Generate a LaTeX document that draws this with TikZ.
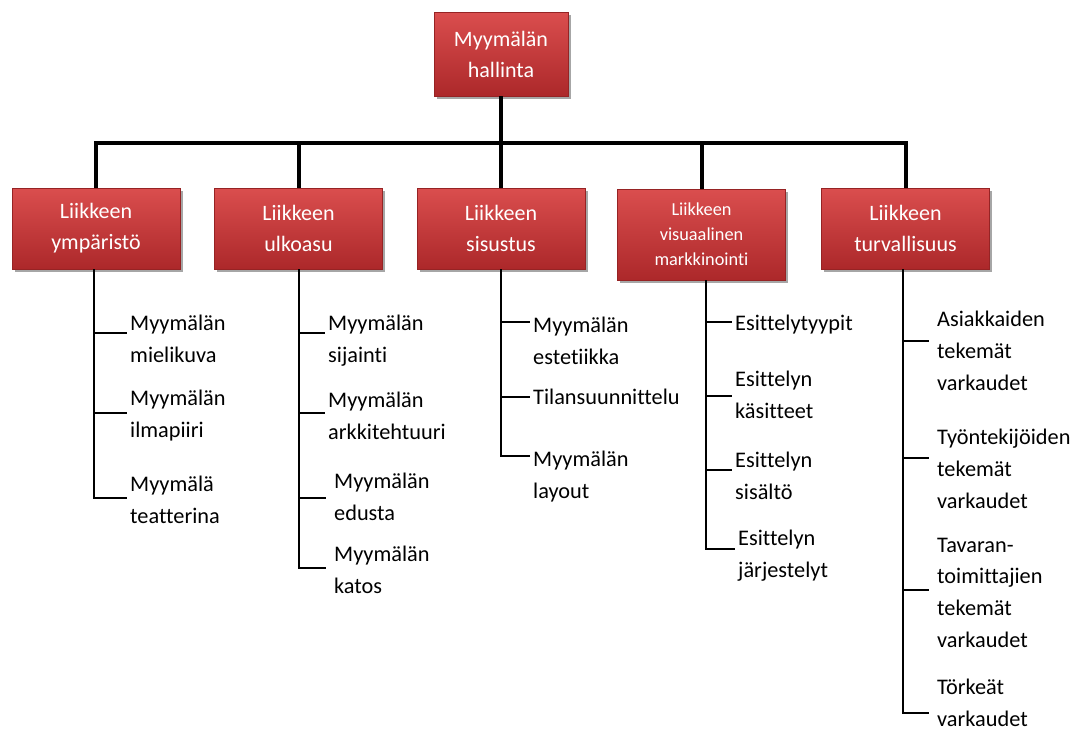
\documentclass[tikz,border=0pt]{standalone}
\usepackage{fontspec}
\setmainfont{Carlito}[Ligatures=NoCommon]
\usetikzlibrary{shadows}
\definecolor{boxtop}{RGB}{218,78,78}
\definecolor{boxbot}{RGB}{172,40,42}
\definecolor{boxedge}{RGB}{150,35,36}
\tikzset{
  redbox/.style={rectangle, top color=boxtop, bottom color=boxbot, draw=boxedge, line width=0.4pt,
    text=white, align=center, inner sep=0pt, font=\fontsize{22}{31}\selectfont,
    drop shadow={shadow xshift=2.5pt, shadow yshift=-2.5pt, opacity=0.35, fill=black}},
  lvlbox/.style={redbox, minimum width=168pt, minimum height=81pt},
  leaf/.style={anchor=base west, align=left, inner sep=0pt, font=\fontsize{22.3}{32}\selectfont},
  thick line/.style={line width=4pt},
  thin line/.style={line width=1.3pt}
}
\begin{document}
\begin{tikzpicture}[x=1pt, y=-1pt]
\useasboundingbox (0,0) rectangle (1078,742);
% root
\node[redbox, minimum width=134pt, minimum height=84pt] (root) at (501,54) {Myymälän\\hallinta};
% level 1
\node[lvlbox] (b1) at (96,228.5) {Liikkeen\\ympäristö};
\node[lvlbox] (b2) at (298.5,228.5) {Liikkeen\\ulkoasu};
\node[lvlbox] (b3) at (501,228.5) {Liikkeen\\sisustus};
\node[lvlbox, minimum height=91pt, font=\fontsize{18.3}{25}\selectfont] (b4) at (701.5,234.5) {Liikkeen\\visuaalinen\\markkinointi};
\node[lvlbox] (b5) at (905.5,228.5) {Liikkeen\\turvallisuus};
% bar
\coordinate (barL) at (96,143);
\coordinate (barR) at (905.5,143);
\draw[thick line] (root.south) -- (root.south |- barL);
\draw[thick line] ([xshift=-2pt]barL) -- ([xshift=2pt]barR);
\foreach \b in {b1,b2,b3,b4,b5} {
  \draw[thick line] (\b.north |- barL) -- (\b.north);
}
% leaves box 1 (positions = baseline of last line)
\node[leaf] (l11) at (130,362) {Myymälän\\mielikuva};
\node[leaf] (l12) at (130,437) {Myymälän\\ilmapiiri};
\node[leaf] (l13) at (130,523) {Myymälä\\teatterina};
% leaves box 2
\node[leaf] (l21) at (328,362) {Myymälän\\sijainti};
\node[leaf] (l22) at (328,439) {Myymälän\\arkkitehtuuri};
\node[leaf] (l23) at (334,520) {Myymälän\\edusta};
\node[leaf] (l24) at (334,593) {Myymälän\\katos};
% leaves box 3
\node[leaf] (l31) at (533,364) {Myymälän\\estetiikka};
\node[leaf] (l32) at (533,404) {Tilansuunnittelu};
\node[leaf] (l33) at (533,498) {Myymälän\\layout};
% leaves box 4
\node[leaf] (l41) at (735,330) {Esittelytyypit};
\node[leaf] (l42) at (735,418) {Esittelyn\\käsitteet};
\node[leaf] (l43) at (735,499) {Esittelyn\\sisältö};
\node[leaf] (l44) at (738,577) {Esittelyn\\järjestelyt};
% leaves box 5
\node[leaf, font=\fontsize{22.3}{31.6}\selectfont] (l51) at (937,390) {Asiakkaiden\\tekemät\\varkaudet};
\node[leaf, font=\fontsize{22.3}{31.6}\selectfont] (l52) at (937,508) {Työntekijöiden\\tekemät\\varkaudet};
\node[leaf, font=\fontsize{22.3}{31.6}\selectfont] (l53) at (937,647) {Tavaran-\\toimittajien\\tekemät\\varkaudet};
\node[leaf, font=\fontsize{22.3}{31.6}\selectfont] (l54) at (937,726) {Törkeät\\varkaudet};
% branch junctions
\coordinate (j11) at (94,333);  \coordinate (j12) at (94,413);  \coordinate (j13) at (94,498);
\coordinate (j21) at (299,333); \coordinate (j22) at (299,413); \coordinate (j23) at (299,498); \coordinate (j24) at (299,568);
\coordinate (j31) at (501,322); \coordinate (j32) at (501,397); \coordinate (j33) at (501,456);
\coordinate (j41) at (706,322); \coordinate (j42) at (706,396); \coordinate (j43) at (706,470); \coordinate (j44) at (706,549);
\coordinate (j51) at (903,341); \coordinate (j52) at (903,458); \coordinate (j53) at (903,590); \coordinate (j54) at (903,713);
% verticals
\draw[thin line] (b1.south -| j11) -- (j13);
\draw[thin line] (b2.south -| j21) -- (j24);
\draw[thin line] (b3.south -| j31) -- (j33);
\draw[thin line] (b4.south -| j41) -- (j44);
\draw[thin line] (b5.south -| j51) -- (j54);
% branches
\foreach \j/\l in {j11/l11,j12/l12,j13/l13,j21/l21,j22/l22,j31/l31,j32/l32,j33/l33,j41/l41,j42/l42,j43/l43,j44/l44} {
  \draw[thin line] ([xshift=-0.65pt]\j) -- ([xshift=-3pt]\l.west |- \j);
}
\foreach \j/\l in {j23/l23,j24/l24,j51/l51,j52/l52,j53/l53,j54/l54} {
  \draw[thin line] ([xshift=-0.65pt]\j) -- ([xshift=-8pt]\l.west |- \j);
}
\end{tikzpicture}
\end{document}
